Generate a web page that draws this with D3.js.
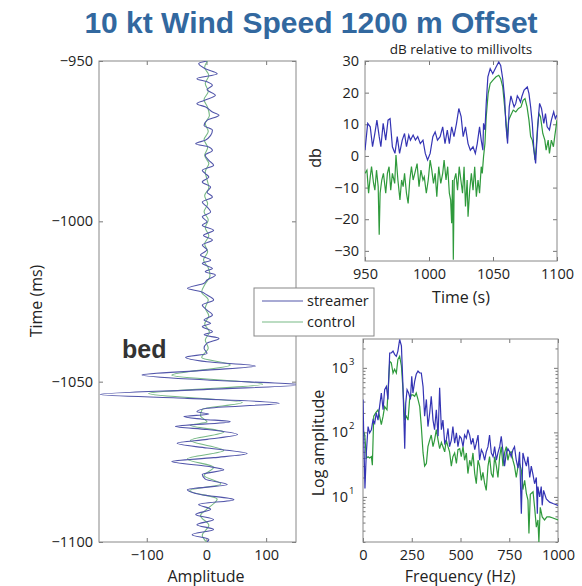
<!DOCTYPE html>
<html lang="en">
<head>
<meta charset="utf-8">
<title>10 kt Wind Speed 1200 m Offset</title>
<script src="https://d3js.org/d3.v7.min.js"></script>
<style>
  body { margin: 0; background: #fff; }
  text { font-family: "Open Sans", sans-serif; fill: #222; }
  .tick line { stroke: #777; }
  .domain { display: none; }
  .frame { fill: none; stroke: #888; stroke-width: 1; }
  .leg { fill: #fff; stroke: #888; stroke-width: 1; }
</style>
</head>
<body>
<script>
// ---- data ----
var seriesNames = ["streamer", "control"];

// left panel: [time ms, amplitude]
var traceStreamer = [[-950,1],[-950.8,-13],[-952.4,-2],[-954,18],[-955.5,-16],[-956.5,1],[-957.6,10],[-958.9,1],[-960.7,15],[-962.3,-4],[-963.3,-16],[-964.3,-2],[-965.9,10],[-966.9,21],[-968.5,1],[-970.1,-4],[-971.6,10],[-973.2,7],[-974.7,-2],[-975.8,-18],[-976.8,4],[-977.9,10],[-979.4,-2],[-981,4],[-982.5,12],[-984.1,-7],[-985.1,-2],[-986.2,4],[-987.7,-7],[-989.3,7],[-990.9,1],[-992.4,10],[-994,-7],[-995.5,1],[-997.1,7],[-998.6,-7],[-1000.2,1],[-1001.2,-7],[-1002.8,12],[-1004.4,-5],[-1005.8,10],[-1007.4,-7],[-1008.9,1],[-1010.5,-10],[-1012.1,7],[-1013.1,-7],[-1014.7,10],[-1015.7,-2],[-1016.7,15],[-1018.3,1],[-1019.3,-4],[-1020.9,-32],[-1021.9,-10],[-1023,1],[-1024.5,12],[-1026.1,-7],[-1027.7,1],[-1029.2,10],[-1030.8,-4],[-1031.8,7],[-1032.8,-7],[-1034.4,10],[-1035.4,-4],[-1036.5,21],[-1038,1],[-1039.6,-4],[-1041.2,1],[-1042.4,-35],[-1043.8,1],[-1045.1,82],[-1046.4,1],[-1047.9,-108],[-1049.5,1],[-1051,158],[-1052.4,1],[-1054,-178],[-1055.2,-32],[-1056.7,122],[-1058.3,1],[-1059.4,-16],[-1060.1,4],[-1060.9,-38],[-1061.7,-7],[-1062.5,40],[-1064,-52],[-1064.9,1],[-1066.5,52],[-1068,1],[-1069.2,-49],[-1070.7,1],[-1072.4,68],[-1073.7,12],[-1074.9,-58],[-1076.4,1],[-1077.5,29],[-1078.9,-7],[-1080.4,-2],[-1082.1,35],[-1083.7,-32],[-1085.2,-10],[-1086.8,46],[-1088.3,-13],[-1089.8,7],[-1091.4,-18],[-1093,12],[-1094.6,-16],[-1096.1,12],[-1097.7,-24],[-1099.2,4],[-1100,1]];
var traceControl = [[-950,2],[-952,-3],[-954.5,4],[-957,-2],[-959.5,3],[-962,-4],[-964.5,2],[-967,5],[-969.5,-2],[-972,3],[-974.5,-4],[-977,2],[-979.5,-3],[-982,4],[-984.5,-2],[-987,1],[-989.5,4],[-992,-3],[-994.5,2],[-997,-4],[-999.5,3],[-1002,-2],[-1004.5,4],[-1007,-3],[-1009.5,2],[-1012,-5],[-1014.5,3],[-1017,6],[-1019.5,-2],[-1022,-8],[-1024.5,3],[-1027,-2],[-1029.5,4],[-1032,-3],[-1034.5,5],[-1037,-2],[-1039.5,3],[-1042.5,-8],[-1044.8,40],[-1048,-58],[-1050.8,94],[-1053.7,-97],[-1056.5,60],[-1058.6,-7],[-1060.6,-10],[-1062.6,1],[-1063.6,-27],[-1065.7,29],[-1068.3,-27],[-1071.5,29],[-1074.1,-32],[-1076.7,12],[-1079.3,-4],[-1081.9,24],[-1084,-28],[-1086.6,18],[-1089.7,1],[-1091.8,-10],[-1094.8,4],[-1097.9,-7],[-1100,0]];

// top right: [time s, dB]
var dbStreamer = [[950,1.8],[952.1,10.3],[954.1,9.2],[955.9,2.9],[957.7,7.1],[959.3,11.3],[961.1,6.1],[962.4,2.9],[964.2,10.3],[966.2,5.0],[968.0,11.3],[969.6,11.8],[971.4,2.9],[973.4,0.8],[975.2,6.1],[977.0,0.8],[979.1,5.0],[980.9,7.1],[982.4,2.9],[984.2,6.6],[985.5,5.0],[987.6,6.6],[989.4,5.0],[991.2,6.1],[993.2,3.9],[995.3,5.0],[997.1,0.8],[998.9,-1.3],[1000.9,0.8],[1003.0,6.1],[1004.8,7.6],[1006.6,5.0],[1008.7,6.1],[1010.7,9.2],[1012.5,3.9],[1014.3,8.2],[1015.9,3.9],[1017.7,9.2],[1019.5,6.1],[1021.5,10.3],[1023.3,15.0],[1025.1,12.4],[1026.7,6.1],[1028.5,9.2],[1030.5,3.9],[1032.3,1.8],[1034.4,2.9],[1036.2,0.8],[1037.7,3.9],[1039.5,9.2],[1040.8,5.0],[1042.1,1.8],[1042.6,10.3],[1043.7,8.2],[1044.7,16.6],[1046.0,25.0],[1047.8,27.6],[1049.8,26.0],[1052.4,28.1],[1054.5,29.7],[1056.0,28.6],[1057.6,24.4],[1059.1,18.1],[1060.1,9.7],[1061.4,3.9],[1062.7,15.5],[1064,19],[1065.3,17.1],[1066.5,15.5],[1067.8,16.6],[1069,19],[1070.4,18.1],[1071.5,17],[1072.5,18.7],[1074.3,20.8],[1076.8,21.8],[1078.1,19.7],[1079.4,15.5],[1080.7,10.3],[1082.0,1.8],[1083.3,-2.4],[1084.3,5.0],[1085.3,11.3],[1086.4,16.6],[1087.9,15.0],[1089.7,10.3],[1091.0,13.4],[1092.3,9.2],[1094.1,8.2],[1095.6,11.3],[1097.4,13.9],[1098.7,11.8],[1100,12.9]];
var dbControl = [[950,-5.5],[951.5,-4.5],[952.8,-11.8],[954.1,-6.6],[955.1,-3.4],[956.7,-8.7],[957.7,-10.8],[959.0,-4.5],[960.3,-9.7],[961.1,-24.9],[961.8,-11.8],[963.1,-7.6],[964.4,-5.5],[966.2,-11.8],[967.5,-5.5],[968.8,-3.4],[970.1,-10.8],[971.4,-5.5],[973.2,-8.7],[974.2,0.3],[975.7,-7.6],[977.3,-13.9],[978.6,-7.6],[979.8,-9.7],[980.9,-5.5],[982.4,-11.8],[983.7,-15.0],[985.0,-7.6],[986.3,-3.4],[987.6,-7.6],[988.9,-5.5],[990.7,-2.4],[992.2,-9.7],[993.7,-4.5],[995.3,-7.6],[996.3,-6.6],[997.9,-11.8],[999.4,-7.6],[1000.9,-1.3],[1002.2,-4.5],[1003.5,-8.7],[1004.8,-5.5],[1006.1,-12.9],[1007.6,-3.4],[1009.2,-8.7],[1010.7,-5.5],[1011.8,-1.3],[1013.3,-7.6],[1014.6,-3.4],[1015.9,-11.8],[1016.9,-13.9],[1017.7,-21.3],[1018.4,-7.6],[1019.0,-32.8],[1019.7,-7.6],[1021.0,-5.5],[1022.3,-10.8],[1023.6,-3.4],[1024.9,-7.6],[1026.2,-11.8],[1027.4,-3.4],[1028.5,-16.0],[1029.8,-7.6],[1030.5,-19.2],[1031.8,-10.8],[1033.1,-5.5],[1034.4,-10.8],[1035.7,-3.4],[1037.0,-12.9],[1038.3,-7.6],[1039.5,-11.8],[1040.8,-3.4],[1041.6,-5.5],[1042.6,-0.3],[1043.7,3.9],[1044.7,12.4],[1046.2,19.7],[1047.8,22.9],[1049.8,23.9],[1052.4,25.0],[1054.5,25.5],[1056.0,24.4],[1057.6,21.8],[1059.1,15.5],[1060.1,11.3],[1061.2,5.5],[1062.2,11.3],[1064.0,12.9],[1065.8,14.5],[1067.8,13.9],[1069.9,15.0],[1071.9,15.5],[1073.5,17.6],[1075.0,18.1],[1076.6,15.5],[1078.1,11.3],[1079.4,6.1],[1080.7,5.0],[1082.0,1.8],[1082.8,-1.3],[1083.8,2.9],[1084.8,9.2],[1085.9,13.4],[1087.1,12.4],[1088.9,7.1],[1090.5,5.0],[1091.5,1.8],[1093.1,5.0],[1094.1,0.8],[1095.6,5.0],[1097.2,2.9],[1098.2,6.1],[1100,11.3]];

// bottom right: [frequency Hz, amplitude]
var specStreamer = [[0,324],[5,60],[10,13.5],[17,48],[26,123],[34,98],[43,110],[51,155],[60,138],[68,200],[77,155],[85,251],[94,407],[103,224],[111,457],[120,513],[128,324],[137,1700],[145,1700],[154,1820],[162,1620],[171,1510],[179,1820],[188,2750],[197,2190],[205,513],[214,56],[219,282],[226,457],[234,407],[243,324],[250,741],[256,407],[265,617],[273,794],[282,891],[291,832],[299,832],[308,513],[316,178],[325,324],[333,123],[342,200],[350,363],[359,155],[367,110],[376,224],[385,87],[393,490],[402,110],[410,155],[419,68],[427,76],[436,115],[444,60],[453,76],[461,123],[470,68],[479,98],[487,60],[496,87],[504,81],[513,60],[521,91],[530,81],[538,110],[547,91],[555,65],[564,81],[573,54],[581,68],[590,91],[598,37],[607,54],[615,48],[624,37],[632,50],[641,60],[649,91],[658,48],[667,42],[675,60],[684,37],[692,48],[701,60],[709,87],[718,50],[726,30],[735,48],[743,56],[752,50],[760,42],[769,54],[777,60],[786,37],[795,28],[803,50],[812,5.5],[820,48],[829,37],[838,30],[846,42],[855,20],[863,30],[872,22],[880,16],[889,20],[894,5.5],[897,14.5],[906,10],[914,14.5],[919,7.4],[926,12.6],[940,9.3],[957,8.3],[974,7.9],[1000,7.4]];
var specControl = [[0,110],[9,91],[17,40],[26,42],[34,40],[43,42],[48,31],[55,178],[65,200],[77,224],[85,178],[94,132],[103,178],[111,251],[123,224],[137,1260],[145,1200],[154,832],[162,950],[171,832],[179,1350],[188,1510],[197,1070],[205,457],[214,155],[222,178],[231,155],[239,324],[248,380],[256,380],[265,363],[273,407],[282,324],[291,251],[299,123],[308,48],[316,30],[325,33],[333,60],[342,76],[350,91],[359,60],[367,76],[376,110],[385,76],[393,56],[402,70],[410,60],[419,50],[427,76],[436,60],[444,50],[453,30],[461,42],[470,48],[479,33],[487,54],[496,56],[504,42],[513,60],[521,37],[530,48],[538,23],[547,37],[555,30],[564,48],[573,23],[581,16],[590,37],[598,30],[607,18],[615,24],[624,16],[632,12.6],[641,30],[649,42],[658,23],[667,20],[675,42],[684,30],[692,20],[701,42],[709,60],[718,30],[726,48],[735,60],[743,37],[752,48],[760,50],[769,37],[777,30],[786,20],[795,30],[803,33],[812,26],[820,13],[829,18],[838,11.2],[846,8.9],[851,2.7],[858,11],[872,12],[880,6.9],[889,3.4],[897,4.4],[902,2],[909,6.9],[919,4.9],[931,4.4],[943,4.9],[957,4.9],[974,4.7],[1000,4.4]];

var ampTicks = [-100, 0, 100];
var msTicks = [-950, -1000, -1050, -1100];
var secTicks = [950, 1000, 1050, 1100];
var dbTicks = [30, 20, 10, 0, -10, -20, -30];
var hzTicks = [0, 250, 500, 750, 1000];
var logMajor = [10, 100, 1000];
var logMinor = [2,3,4,5,6,7,8,9,20,30,40,50,60,70,80,90,200,300,400,500,600,700,800,900,2000];

// ---- setup ----
var w = 582, h = 586;
var svg = d3.select("body").append("svg").attr("width", w).attr("height", h);

var fs = "14.5px";
var numFmt = d3.format("d");

// draws matlab-ish box with inward ticks on all four sides
function boxAxes(id, x, y, xTicks, yTicks, yFmt) {
  var xl = Math.min.apply(null, x.range()), xr = Math.max.apply(null, x.range());
  var yt = Math.min.apply(null, y.range()), yb = Math.max.apply(null, y.range());
  var g = svg.append("g").attr("class", "axes-" + id);

  g.append("g").attr("transform", "translate(0," + yb + ")")
    .call(d3.axisBottom(x).tickValues(xTicks).tickSizeInner(-4).tickSizeOuter(0).tickPadding(8).tickFormat(numFmt))
    .selectAll("text").style("font-size", fs);
  g.append("g").attr("transform", "translate(0," + yt + ")")
    .call(d3.axisTop(x).tickValues(xTicks).tickSizeInner(-4).tickSizeOuter(0).tickFormat(""));
  g.append("g").attr("class", "yleft").attr("transform", "translate(" + xl + ",0)")
    .call(d3.axisLeft(y).tickValues(yTicks).tickSizeInner(-4).tickSizeOuter(0).tickPadding(6).tickFormat(yFmt || numFmt))
    .selectAll("text").style("font-size", fs);
  g.append("g").attr("class", "yright").attr("transform", "translate(" + xr + ",0)")
    .call(d3.axisRight(y).tickValues(yTicks).tickSizeInner(-4).tickSizeOuter(0).tickFormat(""));

  g.append("rect").attr("class", "frame")
    .attr("x", xl).attr("y", yt).attr("width", xr - xl).attr("height", yb - yt);

  svg.append("clipPath").attr("id", "clip-" + id)
    .append("rect").attr("x", xl).attr("y", yt).attr("width", xr - xl).attr("height", yb - yt);
}

// ---- title ----
svg.append("text")
  .attr("x", 311).attr("y", 33)
  .attr("text-anchor", "middle")
  .style("font-family", "'Liberation Sans', Arial, sans-serif")
  .style("font-weight", "bold")
  .style("font-size", "30px")
  .style("fill", "#32689f")
  .text("10 kt Wind Speed 1200 m Offset");

// ---- left panel: traces ----
var ax = d3.scaleLinear().domain([-180, 150]).range([99, 296]);
var ay = d3.scaleLinear().domain([-950, -1100]).range([61, 542]);
boxAxes("left", ax, ay, ampTicks, msTicks);

var traceLine = d3.line().curve(d3.curveMonotoneY)
  .x(function(d) { return ax(d[1]); }).y(function(d) { return ay(d[0]); });

var lp = svg.append("g").attr("clip-path", "url(#clip-left)");
lp.append("path").datum(traceControl)
  .attr("fill", "none").attr("stroke", "#78b986").attr("stroke-width", 1.1).attr("d", traceLine);
lp.append("path").datum(traceStreamer)
  .attr("fill", "none").attr("stroke", "#5256aa").attr("stroke-width", 1.1).attr("d", traceLine);

svg.append("text").attr("x", 206).attr("y", 582).attr("text-anchor", "middle")
  .style("font-size", "16px").text("Amplitude");
svg.append("text").attr("transform", "translate(42,301) rotate(-90)").attr("text-anchor", "middle")
  .style("font-size", "16px").text("Time (ms)");

svg.append("text").attr("x", 122).attr("y", 358)
  .style("font-family", "'Liberation Sans', Arial, sans-serif")
  .style("font-weight", "bold").style("font-size", "25px").style("fill", "#333")
  .text("bed");

// ---- top right: dB ----
var tx = d3.scaleLinear().domain([950, 1100]).range([365, 557]);
var ty = d3.scaleLinear().domain([-33.2, 30]).range([261, 61]);
boxAxes("db", tx, ty, secTicks, dbTicks);

var dbLine = d3.line().x(function(d) { return tx(d[0]); }).y(function(d) { return ty(d[1]); });
var tp = svg.append("g").attr("clip-path", "url(#clip-db)");
tp.append("path").datum(dbControl)
  .attr("fill", "none").attr("stroke", "#2f9a3c").attr("stroke-width", 1.2).attr("d", dbLine);
tp.append("path").datum(dbStreamer)
  .attr("fill", "none").attr("stroke", "#3434b4").attr("stroke-width", 1.2).attr("d", dbLine);

svg.append("text").attr("x", 461).attr("y", 54).attr("text-anchor", "middle")
  .style("font-size", "13.5px").text("dB relative to millivolts");
svg.append("text").attr("x", 461).attr("y", 303).attr("text-anchor", "middle")
  .style("font-size", "16px").text("Time (s)");
svg.append("text").attr("transform", "translate(321,158) rotate(-90)").attr("text-anchor", "middle")
  .style("font-size", "16px").text("db");

// ---- bottom right: spectrum ----
var fx = d3.scaleLinear().domain([0, 1000]).range([363, 558]);
var fy = d3.scaleLog().domain([2, 2800]).range([542, 339]);
boxAxes("spec", fx, fy, hzTicks, logMajor.concat(logMinor), function() { return ""; });

// minor ticks shorter
svg.select(".axes-spec").selectAll(".yleft .tick line, .yright .tick line")
  .filter(function(d) { return logMinor.indexOf(d) >= 0; })
  .attr("x2", function() { return +d3.select(this).attr("x2") > 0 ? 2.5 : -2.5; });

// 10^n labels
logMajor.forEach(function(v) {
  svg.append("text").attr("x", 348).attr("y", fy(v) + 5)
    .attr("text-anchor", "end").style("font-size", fs).text("10");
  svg.append("text").attr("x", 349).attr("y", fy(v) - 3)
    .style("font-size", "9.5px").text(Math.round(Math.log10(v)));
});

var specLine = d3.line().x(function(d) { return fx(d[0]); }).y(function(d) { return fy(d[1]); });
var bp = svg.append("g").attr("clip-path", "url(#clip-spec)");
bp.append("path").datum(specControl)
  .attr("fill", "none").attr("stroke", "#2f9a3c").attr("stroke-width", 1.2).attr("d", specLine);
bp.append("path").datum(specStreamer)
  .attr("fill", "none").attr("stroke", "#3434b4").attr("stroke-width", 1.2).attr("d", specLine);

svg.append("text").attr("x", 460).attr("y", 582).attr("text-anchor", "middle")
  .style("font-size", "16px").text("Frequency (Hz)");
svg.append("text").attr("transform", "translate(324,443) rotate(-90)").attr("text-anchor", "middle")
  .style("font-size", "16px").text("Log amplitude");

// ---- legend ----
var legColors = ["#5256aa", "#78b986"];
var leg = svg.append("g");
leg.append("rect").attr("class", "leg").attr("x", 254).attr("y", 288).attr("width", 120).attr("height", 48);
leg.selectAll("line").data(seriesNames).enter().append("line")
  .attr("x1", 262).attr("x2", 303)
  .attr("y1", function(d, i) { return 301 + i * 21; })
  .attr("y2", function(d, i) { return 301 + i * 21; })
  .attr("stroke", function(d, i) { return legColors[i]; })
  .attr("stroke-width", 1.1);
leg.selectAll("text").data(seriesNames).enter().append("text")
  .attr("x", 307)
  .attr("y", function(d, i) { return 306 + i * 21; })
  .style("font-size", "14.5px")
  .text(function(d) { return d; });
</script>
</body>
</html>
